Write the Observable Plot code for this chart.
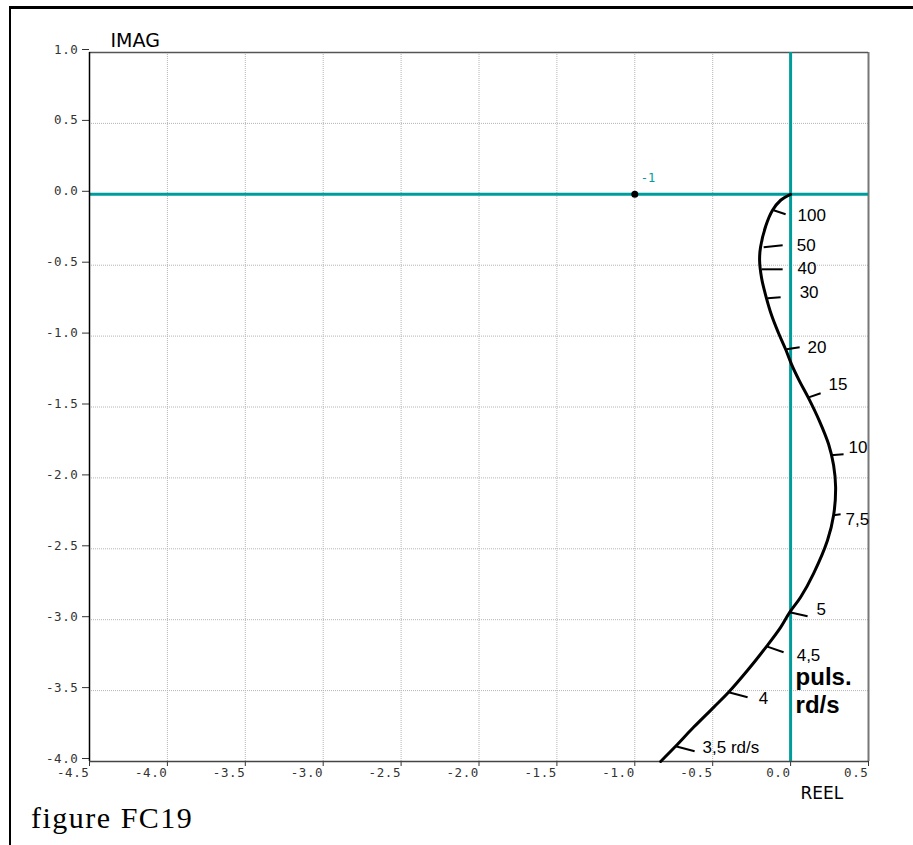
<!DOCTYPE html>
<html><head><meta charset="utf-8">
<script src="https://cdn.jsdelivr.net/npm/d3@7"></script>
<script src="https://cdn.jsdelivr.net/npm/@observablehq/plot@0.6"></script>
<style>
body{margin:0;background:#fff;width:913px;height:845px;overflow:hidden;position:relative;}
#frame{position:absolute;left:9px;top:6px;width:910px;height:845px;border-left:2px solid #000;border-top:3px solid #000;box-sizing:border-box;}
#chart{position:absolute;left:0;top:0;}
#chart svg g[aria-label$="tick label"]{font-size:12.5px;letter-spacing:0.6px;}
#caption{position:absolute;left:31px;top:803px;font-family:"Liberation Serif","Times New Roman",serif;font-size:30px;line-height:1;letter-spacing:1.5px;color:#000;white-space:nowrap;}
</style>
</head><body>
<div id="frame"></div>
<div id="chart"></div>
<div id="caption">figure FC19</div>
<script>
const curveRe = [0, -0.064, -0.116, -0.160, -0.193, -0.199, -0.186, -0.160, -0.122, -0.077, -0.032, 0.006, 0.058, 0.116, 0.186, 0.244, 0.276, 0.289, 0.276, 0.237, 0.148, 0.064, -0.006, -0.064, -0.154, -0.276, -0.398, -0.494, -0.623, -0.738, -0.834];
const curveIm = [0, -0.042, -0.113, -0.226, -0.374, -0.465, -0.592, -0.712, -0.853, -0.980, -1.093, -1.199, -1.319, -1.439, -1.601, -1.763, -1.911, -2.066, -2.264, -2.440, -2.673, -2.842, -2.948, -3.054, -3.188, -3.357, -3.512, -3.618, -3.759, -3.893, -4.0];

// pulsation graduations (rd/s)
const pulsLabels = ["100", "50", "40", "30", "20", "15", "10", "7,5", "5", "4,5", "4", "3,5 rd/s"];
const pulsRe  = [-0.109, -0.173, -0.186, -0.148, -0.026, 0.116, 0.257, 0.276, -0.006, -0.154, -0.398, -0.738];
const pulsIm  = [-0.113, -0.374, -0.529, -0.733, -1.093, -1.432, -1.841, -2.264, -2.948, -3.188, -3.512, -3.893];
const tickEndRe = [-0.032, -0.051, -0.051, -0.064, 0.058, 0.193, 0.340, 0.321, 0.109, -0.045, -0.276, -0.616];
const tickEndIm = [-0.141, -0.360, -0.529, -0.726, -1.079, -1.403, -1.834, -2.257, -2.976, -3.230, -3.547, -3.928];
const labelRe = [0.045, 0.039, 0.045, 0.058, 0.109, 0.244, 0.372, 0.353, 0.167, 0.039, -0.205, -0.565];
const labelIm = [-0.148, -0.360, -0.522, -0.691, -1.079, -1.340, -1.784, -2.292, -2.927, -3.251, -3.554, -3.900];

const noteText = ["puls.", "rd/s"];
const noteRe = [0.032, 0.032];
const noteIm = [-3.406, -3.604];

const criticalRe = [-1];
const criticalIm = [0];
const criticalLabel = ["-1"];

const xTicks = [-4.5, -4.0, -3.5, -3.0, -2.5, -2.0, -1.5, -1.0, -0.5, 0.0, 0.5];
const yTicks = [1.0, 0.5, 0.0, -0.5, -1.0, -1.5, -2.0, -2.5, -3.0, -3.5, -4.0];

const curve = curveRe.map((re, i) => ({re, im: curveIm[i]}));
const grads = pulsLabels.map((label, i) => ({
  label, x1: pulsRe[i], y1: pulsIm[i], x2: tickEndRe[i], y2: tickEndIm[i], lx: labelRe[i], ly: labelIm[i]
}));
const notes = noteText.map((t, i) => ({t, x: noteRe[i], y: noteIm[i]}));
const critical = criticalRe.map((x, i) => ({x, y: criticalIm[i], label: criticalLabel[i]}));

const teal = "#009c9c";
const fmt = d => d.toFixed(1);
const mono = "'DejaVu Sans Mono', monospace";

const chart = Plot.plot({
  width: 913,
  height: 800,
  marginLeft: 89,
  marginRight: 45,
  marginTop: 52,
  marginBottom: 39,
  x: {domain: [-4.5, 0.5], label: null},
  y: {domain: [-4, 1], label: null},
  style: {fontFamily: mono, fontSize: "12px", color: "#333", background: "transparent", overflow: "visible"},
  marks: [
    Plot.gridX(xTicks.slice(1, -1), {stroke: "#b4b4b4", strokeOpacity: 1, strokeDasharray: "1,1"}),
    Plot.gridY(yTicks.slice(1, -1), {stroke: "#b4b4b4", strokeOpacity: 1, strokeDasharray: "1,1"}),
    Plot.ruleX([0.5], {stroke: "#777", strokeWidth: 2}),
    Plot.ruleY([1], {stroke: "#555", strokeWidth: 1.5}),
    Plot.ruleY([0], {stroke: teal, strokeWidth: 3}),
    Plot.ruleX([0], {stroke: teal, strokeWidth: 3}),
    Plot.axisX(xTicks, {tickFormat: fmt, tickSize: 5, tickPadding: 2, textAnchor: "end", dx: 0, fontFamily: mono, label: null}),
    Plot.axisY(yTicks, {tickFormat: fmt, tickSize: 7, tickPadding: 4, dy: -3, fontFamily: mono, label: null}),
    Plot.ruleX([-4.5], {stroke: "#000", strokeWidth: 1.5}),
    Plot.ruleY([-4], {stroke: "#444", strokeWidth: 1.5}),
    Plot.line(curve, {x: "re", y: "im", curve: "catmull-rom", stroke: "#000", strokeWidth: 3}),
    Plot.link(grads, {x1: "x1", y1: "y1", x2: "x2", y2: "y2", stroke: "#000", strokeWidth: 2}),
    Plot.text(grads, {x: "lx", y: "ly", text: "label", textAnchor: "start", fill: "#000", fontFamily: "'Liberation Sans', Arial, sans-serif", fontSize: 17}),
    Plot.text(notes, {x: "x", y: "y", text: "t", textAnchor: "start", fill: "#000", fontFamily: "'Liberation Sans', Arial, sans-serif", fontWeight: "bold", fontSize: 24}),
    Plot.dot(critical, {x: "x", y: "y", r: 3.5, fill: "#000"}),
    Plot.text(critical, {x: "x", y: "y", text: "label", textAnchor: "start", dx: 6, dy: -16, fill: teal, fontSize: 12, fontFamily: mono}),
    Plot.text(["IMAG"], {frameAnchor: "top-left", text: d => d, textAnchor: "start", lineAnchor: "middle", dx: 21, dy: -12, fill: "#000", fontFamily: "'DejaVu Sans', Verdana, sans-serif", fontSize: 19, letterSpacing: 0.5}),
    Plot.text(["REEL"], {frameAnchor: "bottom-right", text: d => d, textAnchor: "start", lineAnchor: "middle", dx: -68, dy: 32, fill: "#000", fontFamily: "'DejaVu Sans', Verdana, sans-serif", fontSize: 17, letterSpacing: 1.5})
  ]
});
document.getElementById("chart").appendChild(chart);
</script>
</body></html>
